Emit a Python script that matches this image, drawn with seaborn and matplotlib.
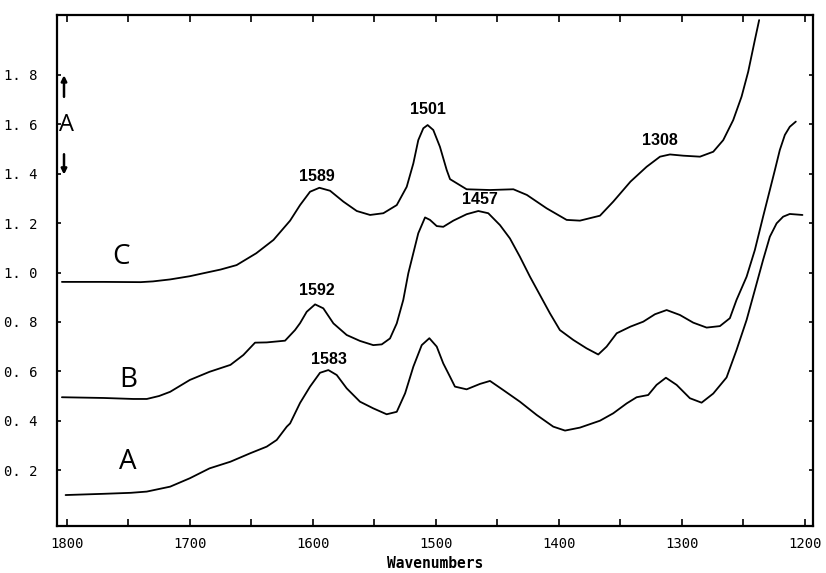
import numpy as np
import pandas as pd
import matplotlib
matplotlib.use("Agg")
import matplotlib.pyplot as plt
import seaborn as sns
from matplotlib.ticker import MultipleLocator, FixedLocator

# ---- data ----
wn_C = [1804, 1770, 1740, 1730, 1716, 1700, 1689, 1675, 1662, 1646, 1632, 1618.5, 1610.4, 1602.3,
        1594.7, 1586, 1575.2, 1564.3, 1553.5, 1542.7, 1531.8, 1523.7, 1518.3, 1514.3, 1510.2, 1506.7,
        1502.1, 1496.7, 1491.2, 1488.5, 1475, 1456, 1437, 1426, 1410, 1393.7, 1382.9, 1366.6, 1355.8,
        1341.8, 1328.7, 1317.8, 1309.7, 1298.9, 1285.3, 1274.5, 1266.4, 1258.3, 1251.5, 1246.1, 1240.7, 1237.2]
abs_C = [0.962, 0.962, 0.961, 0.964, 0.972, 0.985, 0.997, 1.012, 1.030, 1.078, 1.132, 1.210, 1.273, 1.327,
         1.343, 1.331, 1.287, 1.249, 1.233, 1.240, 1.273, 1.347, 1.442, 1.536, 1.584, 1.597,
         1.577, 1.509, 1.415, 1.378, 1.337, 1.334, 1.337, 1.314, 1.260, 1.213, 1.210, 1.230, 1.287,
         1.368, 1.428, 1.469, 1.478, 1.473, 1.469, 1.489, 1.536, 1.617, 1.712, 1.813, 1.941, 2.022]

wn_B = [1804, 1770, 1746, 1735, 1725, 1716, 1700, 1684, 1667, 1656.5, 1647, 1637.5, 1622.6, 1614.5,
        1610.4, 1605, 1598.2, 1591.5, 1583.3, 1572.5, 1561.7, 1550.9, 1544, 1537.3, 1531.8, 1526.5,
        1522.4, 1519.7, 1514.3, 1508.8, 1504.8, 1499.3, 1494, 1485.8, 1475, 1465.5, 1457.4, 1447.9,
        1439.8, 1431.7, 1423.5, 1415.4, 1407.3, 1399.2, 1388.3, 1377.5, 1368, 1361.2, 1353, 1341.8,
        1331.4, 1321.9, 1312.4, 1301.6, 1290.8, 1279.9, 1269.1, 1261, 1255.6, 1247.4, 1240.7, 1234,
        1228.5, 1224.4, 1220.4, 1216.3, 1212.3, 1207.4]
abs_B = [0.495, 0.492, 0.488, 0.488, 0.500, 0.517, 0.565, 0.598, 0.626, 0.666, 0.716, 0.717, 0.724, 0.767,
         0.795, 0.841, 0.871, 0.855, 0.794, 0.747, 0.723, 0.706, 0.709, 0.733, 0.794, 0.889,
         0.997, 1.051, 1.159, 1.223, 1.213, 1.188, 1.185, 1.210, 1.236, 1.249, 1.240, 1.192,
         1.138, 1.064, 0.983, 0.909, 0.835, 0.767, 0.727, 0.693, 0.668, 0.700, 0.754, 0.781,
         0.801, 0.831, 0.848, 0.828, 0.797, 0.777, 0.783, 0.815, 0.889, 0.983, 1.091, 1.226,
         1.334, 1.415, 1.496, 1.557, 1.590, 1.611]

wn_A = [1801, 1770, 1748, 1735, 1716, 1700, 1684, 1667, 1651, 1637.5, 1629.4, 1621.2, 1618.5, 1610.4,
        1602.3, 1594.2, 1587.4, 1580.6, 1572.5, 1561.7, 1550.9, 1540, 1531.8, 1525, 1518.3, 1511.5,
        1505.3, 1499.3, 1494, 1488.5, 1484.5, 1475, 1464.1, 1456, 1445.2, 1431.7, 1418, 1404.6, 1395,
        1382.9, 1366.6, 1355.8, 1344.9, 1336.8, 1327.4, 1320.6, 1313, 1304.3, 1293.5, 1284, 1274.5,
        1263.7, 1255.6, 1247.4, 1240.7, 1234, 1228.5, 1223, 1217.7, 1212.3, 1202]
abs_A = [0.099, 0.104, 0.108, 0.113, 0.133, 0.167, 0.207, 0.234, 0.268, 0.295, 0.322, 0.376, 0.389, 0.472,
         0.538, 0.594, 0.605, 0.585, 0.531, 0.477, 0.450, 0.426, 0.436, 0.511, 0.619, 0.706,
         0.734, 0.700, 0.632, 0.578, 0.538, 0.527, 0.549, 0.561, 0.524, 0.477, 0.423, 0.376, 0.360,
         0.372, 0.400, 0.430, 0.470, 0.495, 0.504, 0.545, 0.574, 0.545, 0.491, 0.473, 0.510,
         0.575, 0.686, 0.808, 0.929, 1.051, 1.145, 1.199, 1.226, 1.237, 1.233]

curve_names = ["A", "B", "C"]
peak_labels = ["1589", "1501", "1457", "1592", "1583", "1308"]
peak_x = [1596.8, 1506.7, 1464, 1596.8, 1586.9, 1317.8]
peak_y = [1.387, 1.658, 1.294, 0.929, 0.646, 1.536]
name_x = [1750.2, 1750.2, 1755.9]
name_y = [0.234, 0.565, 1.063]

x_ticks = [1800, 1700, 1600, 1500, 1400, 1300, 1200]
y_ticks = [0.2, 0.4, 0.6, 0.8, 1.0, 1.2, 1.4, 1.6, 1.8]
y_ticklabels = ["0. 2", "0. 4", "0. 6", "0. 8", "1. 0", "1. 2", "1. 4", "1. 6", "1. 8"]

# ---- plot ----
sns.set_style("ticks")
plt.rcParams["font.family"] = ["DejaVu Sans"]
plt.rcParams["text.color"] = "black"
plt.rcParams["xtick.color"] = "black"
plt.rcParams["ytick.color"] = "black"
plt.rcParams["axes.labelcolor"] = "black"

fig = plt.figure(figsize=(8.26, 5.73), dpi=100)
ax = fig.add_axes([0.069, 0.0826, 0.915, 0.8914])

frames = []
for nm, wx, ay in zip(curve_names, [wn_A, wn_B, wn_C], [abs_A, abs_B, abs_C]):
    frames.append(pd.DataFrame({"wn": wx, "abs": ay, "curve": nm}))
df = pd.concat(frames, ignore_index=True)

sns.lineplot(data=df, x="wn", y="abs", units="curve", estimator=None, sort=False,
             color="black", linewidth=1.3, ax=ax, legend=False)

ax.set_xlim(1808, 1193.6)
ax.set_ylim(-0.025, 2.043)

ax.xaxis.set_major_locator(FixedLocator(x_ticks))
ax.xaxis.set_minor_locator(MultipleLocator(50))
ax.set_xticklabels([str(t) for t in x_ticks], family="DejaVu Sans Mono", fontsize=10, color="black")
ax.yaxis.set_major_locator(FixedLocator(y_ticks))
ax.set_yticklabels(y_ticklabels, family="DejaVu Sans Mono", fontsize=10, color="black")

ax.tick_params(axis="both", which="both", direction="in", top=True, right=True,
               length=5, width=1.2, color="black")
ax.tick_params(axis="y", which="major", length=3, pad=14)
ax.tick_params(axis="x", which="major", pad=8)

for sp in ax.spines.values():
    sp.set_linewidth(1.6)
    sp.set_color("black")

ax.set_xlabel("Wavenumbers", family="DejaVu Sans Mono", fontsize=10.5, fontweight="bold",
              labelpad=4, color="black")
ax.set_ylabel("")

for lab, px, py in zip(peak_labels, peak_x, peak_y):
    ax.text(px, py, lab, ha="center", va="center", fontsize=11.5, fontweight="bold",
            family="Liberation Sans", color="black")

for nm, px, py in zip(curve_names, name_x, name_y):
    ax.text(px, py, nm, ha="center", va="center", fontsize=20, family="Open Sans", color="black")

# axis label "A" with arrows
ax.text(1800.3, 1.597, "A", ha="center", va="center", fontsize=17, family="Open Sans", color="black")
ax.annotate("", xy=(1802.3, 1.81), xytext=(1802.3, 1.70),
            arrowprops=dict(arrowstyle="-|>", color="black", lw=1.8, mutation_scale=8))
ax.annotate("", xy=(1802.3, 1.385), xytext=(1802.3, 1.49),
            arrowprops=dict(arrowstyle="-|>", color="black", lw=1.8, mutation_scale=8))

fig.savefig("out.png", dpi=100)
